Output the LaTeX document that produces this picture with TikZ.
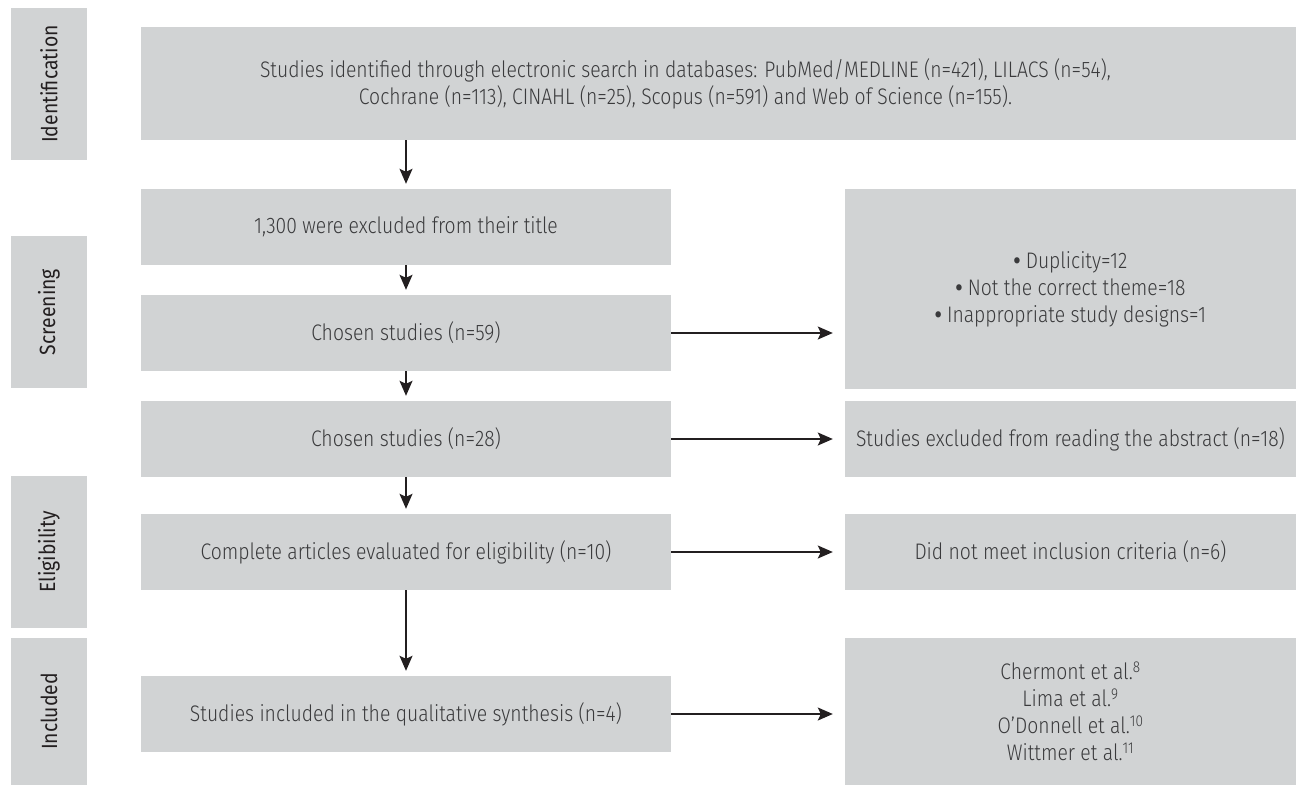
\documentclass[tikz,border=0pt]{standalone}
\usepackage{fontspec}
\setmainfont{Fira Sans}[UprightFont={* Light}, FakeStretch=0.86]
\newfontfamily\stagefont{Fira Sans}[FakeStretch=0.88]
\newcommand{\dotitem}{{\stagefont\bfseries •}~}
\usetikzlibrary{arrows.meta}
\definecolor{boxgrey}{HTML}{D1D3D4}
\definecolor{inkgrey}{HTML}{3A3A3C}
\definecolor{arrowink}{HTML}{231F20}
\begin{document}
\begin{tikzpicture}[x=1pt,y=-1pt,
  box/.style={fill=boxgrey, text=inkgrey, inner sep=0pt, align=center,
    font=\fontsize{22.5}{27}\selectfont},
  stage/.style={fill=boxgrey, text=arrowink, rotate=90, inner sep=0pt,
    minimum width=152pt, minimum height=76pt,
    font=\stagefont\fontsize{22}{26}\selectfont},
  flow/.style={-{Stealth[length=15pt,width=13pt,inset=3pt]}, line width=1.4pt,
    draw=arrowink, shorten >=5pt},
  side/.style={flow, shorten >=12pt}]
\useasboundingbox (0,0) rectangle (1296,785);
%%% phase labels on the left
\node[stage] (ident) at (49, 84) {Identification};
\node[stage] (screen) at (49, 312) {Screening};
\node[stage] (elig) at (49, 552) {Eligibility};
\node[stage, minimum width=147pt] (incl) at (49, 711.5) {Included};
%%% main column
\node[box, minimum width=1155pt, minimum height=113pt] (search) at (718.5, 83.5)
{Studies identified through electronic search in databases: PubMed/MEDLINE (n=421), LILACS (n=54),\hspace*{66pt}\\
Cochrane (n=113), CINAHL (n=25), Scopus (n=591) and Web of Science (n=155).\hspace*{66pt}};
\node[box, minimum width=530pt, minimum height=76pt] (title) at (406, 227)
{1,300 were excluded from their title};
\node[box, minimum width=530pt, minimum height=76pt] (chosenA) at (406, 333)
{Chosen studies (n=59)};
\node[box, minimum width=530pt, minimum height=76pt] (chosenB) at (406, 439)
{Chosen studies (n=28)};
\node[box, minimum width=530pt, minimum height=76pt] (full) at (406, 552)
{Complete articles evaluated for eligibility (n=10)};
\node[box, minimum width=530pt, minimum height=76pt] (synth) at (406, 714)
{Studies included in the qualitative synthesis (n=4)};
%%% exclusions on the right
\node[box, minimum width=451pt, minimum height=200pt] (reasons) at (1070.5, 289)
{\dotitem Duplicity=12\\ \dotitem Not the correct theme=18\\ \dotitem Inappropriate study designs=1};
\node[box, minimum width=451pt, minimum height=76pt] (abstr) at (1070.5, 439)
{Studies excluded from reading the abstract (n=18)};
\node[box, minimum width=451pt, minimum height=76pt] (crit) at (1070.5, 552)
{Did not meet inclusion criteria (n=6)};
\node[box, minimum width=451pt, minimum height=147pt] (list) at (1070.5, 711.5)
{Chermont et al.\textsuperscript{8}\\ Lima et al.\textsuperscript{9}\\
O’Donnell et al.\textsuperscript{10}\\ Wittmer et al.\textsuperscript{11}};
%%% arrows
\draw[flow] (search.south -| title.north) -- (title.north);
\draw[flow] (title) -- (chosenA);
\draw[flow] (chosenA) -- (chosenB);
\draw[flow] (chosenB) -- (full);
\draw[flow] (full) -- (synth);
\draw[side] (chosenA.east) -- (chosenA.east -| reasons.west);
\draw[side] (chosenB.east) -- (abstr.west);
\draw[side] (full.east) -- (crit.west);
\draw[side] (synth.east) -- (synth.east -| list.west);
\end{tikzpicture}
\end{document}
